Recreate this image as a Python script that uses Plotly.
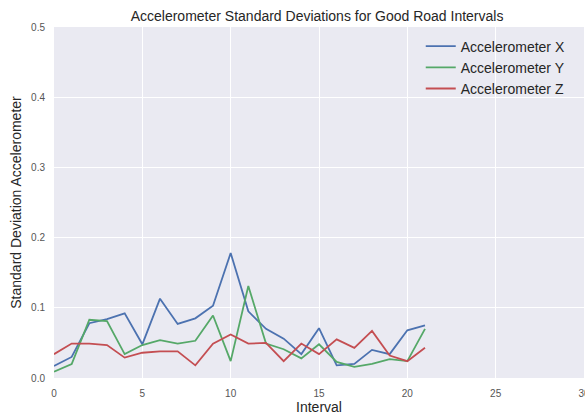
import plotly.graph_objects as go

intervals = list(range(22))
acc_x = [0.017, 0.030, 0.078, 0.084, 0.092, 0.048, 0.113, 0.077, 0.085, 0.103, 0.178,
         0.095, 0.070, 0.056, 0.034, 0.071, 0.018, 0.020, 0.040, 0.034, 0.068, 0.075]
acc_y = [0.009, 0.020, 0.083, 0.081, 0.034, 0.047, 0.054, 0.049, 0.053, 0.089, 0.024,
         0.131, 0.049, 0.041, 0.028, 0.048, 0.023, 0.016, 0.020, 0.027, 0.024, 0.070]
acc_z = [0.034, 0.049, 0.049, 0.047, 0.029, 0.036, 0.038, 0.038, 0.018, 0.049, 0.062,
         0.049, 0.050, 0.024, 0.049, 0.034, 0.055, 0.043, 0.067, 0.032, 0.024, 0.043]

names = ["Accelerometer X", "Accelerometer Y", "Accelerometer Z"]
colors = ["#4C72B0", "#55A868", "#C44E52"]

fig = go.Figure()
for name, vals, c in zip(names, [acc_x, acc_y, acc_z], colors):
    fig.add_trace(go.Scatter(x=intervals, y=vals, mode="lines", name=name,
                             line=dict(color=c, width=1.8)))

fig.update_layout(
    width=585, height=418,
    margin=dict(l=54, r=1, t=27, b=40, autoexpand=False),
    paper_bgcolor="white",
    plot_bgcolor="#EAEAF2",
    font=dict(family="Liberation Sans, Arial, sans-serif", color="#262626"),
    title=dict(text="Accelerometer Standard Deviations for Good Road Intervals",
               x=0.542, xanchor="center", y=0.962, yanchor="middle",
               font=dict(size=14, color="#262626")),
    xaxis=dict(range=[0, 30], tickvals=[0, 5, 10, 15, 20, 25, 30],
               showgrid=True, gridcolor="white", gridwidth=1.2, zeroline=False,
               ticks="outside", ticklen=6, tickcolor="rgba(0,0,0,0)",
               ticklabeloverflow="allow", automargin=False,
               tickfont=dict(size=10, color="#555555"),
               title=dict(text="Interval", font=dict(size=14, color="#262626"), standoff=2)),
    yaxis=dict(range=[0, 0.5], tickvals=[0, 0.1, 0.2, 0.3, 0.4, 0.5],
               ticktext=["0.0", "0.1", "0.2", "0.3", "0.4", "0.5"],
               showgrid=True, gridcolor="white", gridwidth=1.2, zeroline=False,
               ticks="outside", ticklen=6, tickcolor="rgba(0,0,0,0)",
               automargin=False,
               tickfont=dict(size=10, color="#555555"),
               title=dict(text="Standard Deviation Accelerometer",
                          font=dict(size=14, color="#262626"), standoff=6)),
    legend=dict(x=0.975, xanchor="right", y=0.99, yanchor="top",
                bgcolor="rgba(0,0,0,0)", font=dict(size=14, color="#262626"),
                itemwidth=30, tracegroupgap=0),
)

fig.write_html("out.html")
